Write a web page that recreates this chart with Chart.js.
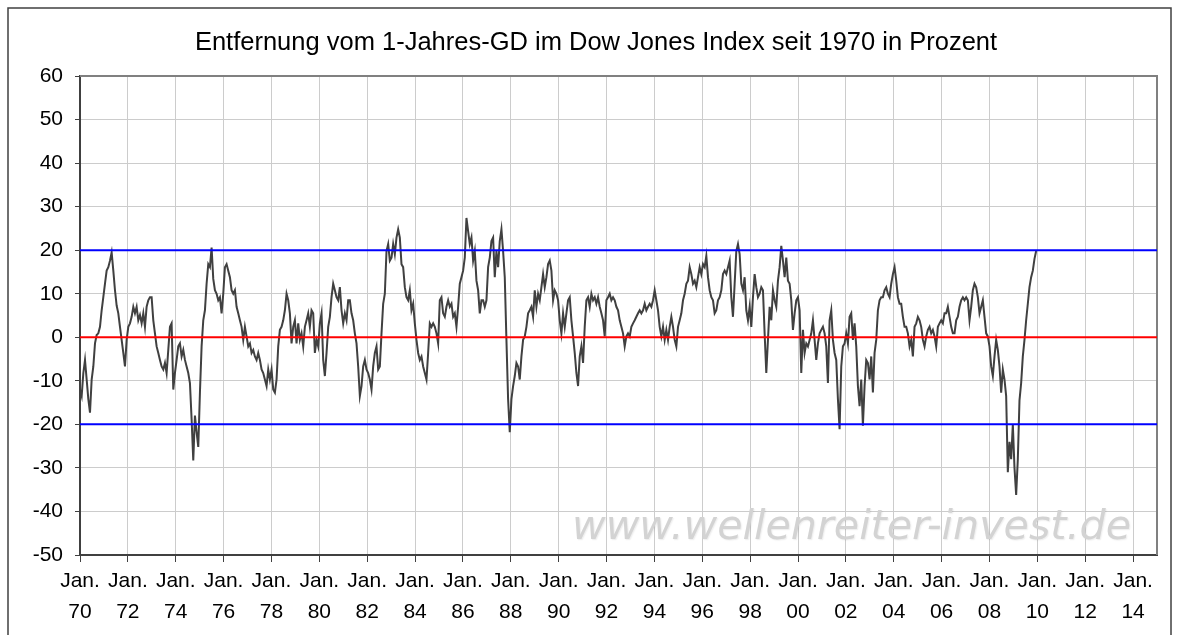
<!DOCTYPE html>
<html>
<head>
<meta charset="UTF-8" />
<title>Dow Jones - Abstand zum 1-Jahres-GD</title>
<style>
  html, body { margin: 0; padding: 0; background: #fff; }
  .chartBox { width: 1179px; height: 635px; }
</style>
</head>
<body>
<div class="chartBox">
  <canvas id="myChart" width="1179" height="635"></canvas>
</div>

<script src="https://cdn.jsdelivr.net/npm/chart.js"></script>
<script>
// texts
const titleText = 'Entfernung vom 1-Jahres-GD im Dow Jones Index seit 1970 in Prozent';
const watermarkText = 'www.wellenreiter-invest.de';

// series: distance from the 1-year average in %, one value about every 25 days
const firstYear = 1970;
const stepYears = 0.0696;

const v1970 = [-12.0,-13.5,-8.2,-5.2,-9.7,-14.2,-17.3,-9.7,-6.7,-1.4,
  0.5,0.9,2.4,6.2,9.2,12.3,15.3,16.1,17.6,19.5,
  15.3,10.8,7.3,5.5,2.4,-0.6,-3.6,-6.7,-0.6,2.4,
  3.2,4.7,7.0,5.5,7.0,3.9,5.1,3.2,5.5,2.4,
  7.0,8.5,9.2,9.2,3.9,0.9,-2.1,-3.6,-5.2,-6.7,
  -7.4,-5.9,-8.2,-2.9,2.4,3.2,-12.0,-8.2,-5.2,-2.1,
  -1.4,-4.4,-2.9,-5.2,-6.7,-8.2,-10.5,-18.8,-28.3];
const v1975 = [-18.0,-21.8,-25.2,-12.7,-2.1,3.9,6.2,12.3,16.8,16.1,
  20.6,13.4,10.8,10.0,8.5,9.2,5.5,10.0,16.1,16.8,
  15.3,13.8,10.8,10.0,10.8,7.0,5.5,3.9,2.4,-0.6,
  2.4,0.2,-2.1,-1.4,-3.6,-2.9,-4.4,-5.2,-3.6,-5.2,
  -7.4,-8.2,-9.7,-11.2,-7.4,-9.7,-7.4,-12.0,-12.7,-9.7,
  -2.1,1.7,2.4,3.9,6.2,10.0,8.5,5.5,-1.4,2.4,
  3.9,-1.4,3.2,-0.6,0.9,-2.1,2.4,3.9,5.5,2.4,6.2,5.5];
const v1980 = [-3.6,-0.6,-2.1,3.2,5.5,-5.2,-8.9,-3.6,2.4,4.7,
  9.2,12.3,10.8,9.2,8.5,11.5,6.2,3.2,5.5,3.9,
  8.5,8.5,5.5,3.9,0.9,-1.4,-6.7,-13.5,-11.2,-6.7,
  -5.2,-7.4,-8.2,-9.7,-12.0,-6.7,-3.6,-2.1,-7.4,-6.7,
  0.9,7.7,10.0,19.8,21.4,17.6,18.3,21.4,19.1,22.9,
  24.8,22.9,16.8,16.1,11.5,9.2,8.5,10.8,6.2,7.7,
  3.2,-0.6,-3.6,-5.2,-4.4,-6.7,-8.2,-9.7,-3.6,3.2,2.4,3.2];
const v1985 = [2.4,0.9,-1.4,8.5,9.2,5.5,4.7,7.0,8.5,7.0,
  7.7,4.7,5.5,2.4,7.0,12.3,13.8,15.3,18.3,27.4,
  24.4,21.4,22.9,17.6,19.8,13.0,10.8,5.5,8.5,8.5,
  7.0,8.5,16.1,18.3,22.1,22.9,13.8,19.8,16.1,22.1,
  24.8,19.8,13.8,-0.6,-14.2,-21.8,-14.2,-11.2,-8.9,-5.9,
  -6.7,-9.7,-4.4,-0.6,0.2,2.4,5.5,6.2,7.0,4.7,
  10.8,7.0,10.0,8.5,11.5,14.5,11.5,13.8,16.8,17.6,15.3,8.5];
const v1990 = [10.8,10.0,8.5,3.9,0.9,5.5,2.4,5.5,8.5,9.2,
  3.9,0.2,-3.6,-8.2,-11.2,-4.4,-2.1,-5.9,2.4,8.5,
  9.2,7.0,10.0,8.5,9.2,7.7,9.2,7.0,5.5,3.9,
  0.2,8.5,9.2,10.0,8.5,9.2,8.5,7.0,6.2,3.9,
  2.4,0.9,-2.1,0.2,0.9,0.2,2.4,3.2,3.9,4.7,
  5.5,6.2,5.5,6.2,7.7,6.2,7.0,7.7,7.0,8.5,
  10.8,8.5,6.2,2.4,0.2,2.4,-0.6,1.7,-0.6,2.4,4.7,2.4];
const v1995 = [-0.6,-2.1,2.4,3.9,5.5,8.5,10.0,12.3,13.0,16.1,
  14.5,12.3,13.0,11.5,13.8,16.1,14.5,16.8,16.1,18.7,
  13.8,10.8,9.2,8.5,5.5,6.2,8.5,9.2,10.8,14.5,
  15.3,14.5,16.1,17.6,9.2,4.7,12.3,19.8,21.4,19.1,
  12.3,10.8,13.8,6.2,3.9,7.0,2.4,9.2,14.5,11.5,
  9.2,10.0,11.5,10.8,0.9,-8.2,-0.6,7.0,3.9,10.8,
  8.5,7.0,13.0,16.1,21.0,17.6,13.8,18.3,13.0,12.3,8.5,1.7];
const v2000 = [5.5,8.5,9.2,6.2,-8.2,1.7,-3.6,-1.4,-2.1,-0.6,
  0.9,3.9,-0.6,-5.2,-1.4,0.9,1.7,2.4,0.9,-2.1,
  -10.5,3.9,6.2,-0.6,-3.6,-5.2,-14.2,-21.1,-6.7,-2.1,
  -1.4,0.9,-1.4,4.7,5.5,-0.6,3.2,-2.1,-11.2,-15.8,
  -9.7,-20.3,-11.2,-5.2,-5.9,-9.7,-4.4,-12.7,-3.6,-0.6,
  6.2,8.5,9.2,9.2,10.8,11.5,10.0,9.2,12.3,14.5,
  16.1,13.0,9.2,7.7,7.7,4.7,2.4,2.4,0.9,-2.1,-0.6,-4.4];
const v2005 = [2.4,3.2,4.7,3.9,2.4,-0.6,-2.1,0.2,1.7,2.4,
  0.9,1.7,0.2,-2.1,2.4,3.2,3.9,3.2,5.5,5.5,
  7.0,4.7,2.4,0.9,0.9,3.9,4.7,7.0,8.5,9.2,
  8.5,9.2,8.5,3.9,7.0,10.8,12.3,11.5,9.2,5.5,
  7.0,8.5,4.7,0.9,0.2,-2.1,-6.7,-8.9,-4.4,-0.6,
  -2.9,-6.7,-12.7,-7.4,-9.7,-13.5,-31.0,-24.0,-28.0,-20.0,
  -30.0,-36.2,-28.0,-14.5,-10.5,-4.4,-0.6,3.9,7.7,11.5,13.8,15.3,18.0,19.8];

// axes
const tickYears = [1970,1972,1974,1976,1978,1980,1982,1984,1986,1988,1990,1992,
  1994,1996,1998,2000,2002,2004,2006,2008,2010,2012,2014];
const tickLabels = ['70','72','74','76','78','80','82','84','86','88','90','92',
  '94','96','98','00','02','04','06','08','10','12','14'];
const refLevels = [20, 0, -20];
const refColors = ['#0000ff', '#ff0000', '#0000ff'];

const allValues = [].concat(v1970, v1975, v1980, v1985, v1990, v1995, v2000, v2005);
const seriesPoints = allValues.map((v, i) => ({ x: firstYear + i * stepYears, y: v }));

const fontFamily = '"Liberation Sans", Arial, sans-serif';

const datasets = [{
  data: seriesPoints,
  borderColor: '#404040',
  borderWidth: 2,
  pointRadius: 0,
  tension: 0,
  order: 2
}];
refLevels.forEach((lv, i) => {
  datasets.push({
    data: [{ x: 1970, y: lv }, { x: 2015, y: lv }],
    borderColor: refColors[i],
    borderWidth: 2,
    pointRadius: 0,
    order: 1
  });
});

// frame, title, watermark
const decor = {
  id: 'decor',
  beforeDatasetsDraw(chart) {
    const { ctx, chartArea: a } = chart;
    ctx.save();
    // watermark
    ctx.font = 'italic 40px "DejaVu Sans", Verdana, sans-serif';
    const w = ctx.measureText(watermarkText).width;
    const size = 40 * 559 / w;
    ctx.font = 'italic ' + size.toFixed(1) + 'px "DejaVu Sans", Verdana, sans-serif';
    ctx.fillStyle = '#d3d3d3';
    ctx.shadowColor = 'rgba(0,0,0,0.08)';
    ctx.shadowBlur = 1.5;
    ctx.shadowOffsetX = 1;
    ctx.shadowOffsetY = 1;
    ctx.textBaseline = 'alphabetic';
    ctx.fillText(watermarkText, 572, 539);
    ctx.restore();

    ctx.save();
    ctx.strokeStyle = '#808080';
    ctx.lineWidth = 2;
    ctx.beginPath();
    ctx.moveTo(a.left, a.top);
    ctx.lineTo(a.right, a.top);
    ctx.lineTo(a.right, a.bottom);
    ctx.stroke();
    ctx.restore();
  },
  afterDraw(chart) {
    const { ctx } = chart;
    ctx.save();
    ctx.strokeStyle = '#404040';
    ctx.lineWidth = 1.5;
    ctx.strokeRect(8, 8, 1163, 700);
    ctx.fillStyle = '#000';
    ctx.font = '25.5px ' + fontFamily;
    ctx.textAlign = 'center';
    ctx.textBaseline = 'alphabetic';
    ctx.fillText(titleText, 596, 50);
    ctx.restore();
  }
};

const config = {
  type: 'line',
  data: { datasets },
  options: {
    responsive: false,
    animation: false,
    devicePixelRatio: 1,
    layout: { padding: { top: 76, right: 22, left: 0, bottom: 0 } },
    plugins: {
      legend: { display: false },
      tooltip: { enabled: false },
      title: { display: false }
    },
    scales: {
      x: {
        type: 'linear',
        min: 1970,
        max: 2015,
        afterBuildTicks: (s) => { s.ticks = tickYears.map(v => ({ value: v })); },
        afterFit: (s) => { s.height = 80; },
        ticks: {
          autoSkip: false,
          maxRotation: 0,
          padding: 4,
          color: '#000',
          font: { family: fontFamily, size: 21, lineHeight: 1.48 },
          callback: (v) => ['Jan.', tickLabels[tickYears.indexOf(v)]]
        },
        grid: { color: '#cccccc', lineWidth: 1, tickColor: '#404040', tickLength: 7 },
        border: { color: '#404040', width: 2 }
      },
      y: {
        min: -50,
        max: 60,
        afterFit: (s) => { s.width = 80; },
        ticks: {
          stepSize: 10,
          padding: 12,
          color: '#000',
          font: { family: fontFamily, size: 21 }
        },
        grid: { color: '#cccccc', lineWidth: 1, tickColor: '#404040', tickLength: 5 },
        border: { color: '#404040', width: 2 }
      }
    }
  },
  plugins: [decor]
};

const myChart = new Chart(document.getElementById('myChart'), config);
</script>
</body>
</html>
